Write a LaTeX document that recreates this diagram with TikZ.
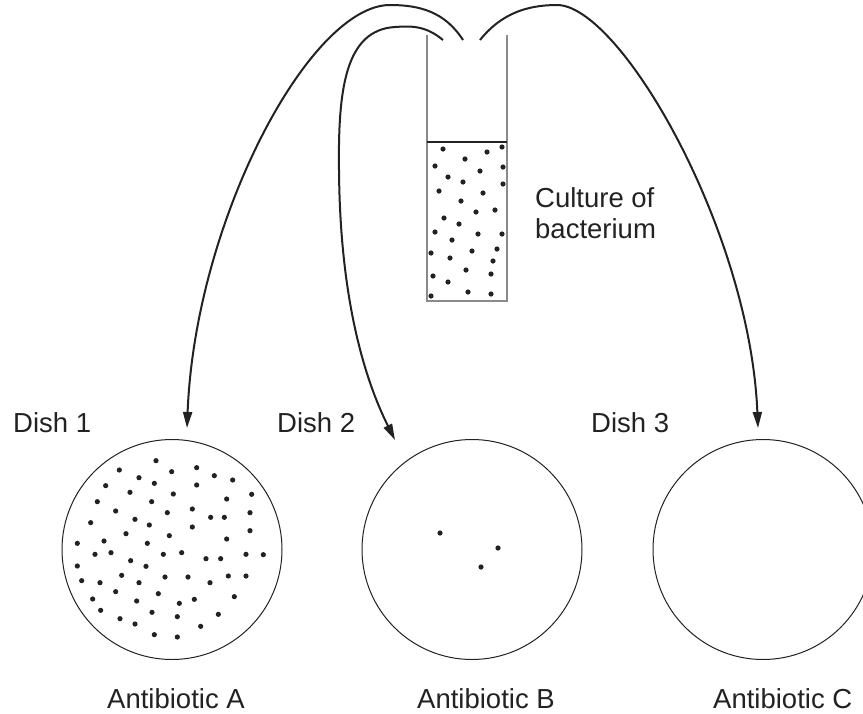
\documentclass[tikz,border=0pt]{standalone}
\usepackage{fontspec}
\setmainfont{Liberation Sans}
\usetikzlibrary{arrows.meta}
\definecolor{ink}{HTML}{222222}
\definecolor{tubegray}{HTML}{8A8A8A}
\begin{document}
\begin{tikzpicture}[x=1pt,y=-1pt,
  lbl/.style={inner sep=0pt,anchor=base west,text=ink,font=\fontsize{27.5}{31}\selectfont},
  dishc/.style={circle,draw=ink,line width=1pt,minimum size=220pt,inner sep=0pt},
  germ/.style={fill=ink},
  flow/.style={draw=ink,line width=2pt,-{Triangle[length=16pt,width=9pt]}}]
\useasboundingbox (0,0) rectangle (863,713);
\clip (0,0) rectangle (863,713);
\fill[white] (0,0) rectangle (863,713);
% test tube
\draw[tubegray,line width=1.4pt] (427,35) -- (427,301) -- (507,301) -- (507,35);
\draw[ink,line width=1.2pt] (427,142) -- (507,142);
\foreach \a/\b in {443/149,487/152,502/147,465/159,435/166,480/171,503/167,448/177,463/182,503/184,
  439/191,483/193,461/201,476/212,495/210,444/218,459/224,435/232,478/234,502/234,452/240,472/251,
  497/249,431/253,450/258,493/261,466/270,491/274,433/276,448/282,468/292,491/294,431/296}
  \fill[germ] (\a,\b) circle[radius=2.6pt];
\node[lbl,align=left] (culture) at (535,238) {Culture of\\bacterium};
% dishes
\node[dishc] (dish1) at (172,549.5) {};
\node[dishc] (dish2) at (472,549.5) {};
\node[dishc] (dish3) at (763,549.5) {};
\foreach \a/\b in {348/92,238/120,395/125,470/113,297/143,523/137,578/150,197/167,343/160,470/165,
  270/187,400/192,635/193,172/215,335/215,560/207,227/243,382/248,457/237,512/262,553/262,630/248,
  152/278,285/268,328/285,457/291,258/311,388/317,560/327,630/302,112/340,192/333,322/340,165/373,
  213/368,370/373,425/368,498/386,542/386,618/373,670/374,112/408,272/392,318/409,245/436,375/441,
  444/441,565/438,618/438,125/452,180/458,297/458,510/458,227/485,355/491,158/507,290/513,418/520,
  463/508,583/500,182/541,336/547,412/560,535/553,240/566,285/582,482/589,343/614,412/621}
  \fill[germ] ({40+\a/3},{430+\b/3}) circle[radius=2.6pt];
\foreach \a/\b in {440/533,498/548,481/567}
  \fill[germ] (\a,\b) circle[radius=2.6pt];
% labels
\node[lbl] (d1) at (13,432) {Dish 1};
\node[lbl] (d2) at (277,432) {Dish 2};
\node[lbl] (d3) at (591,432) {Dish 3};
\node[lbl] (abA) at (107,708) {Antibiotic A};
\node[lbl] (abB) at (417,708) {Antibiotic B};
\node[lbl] (abC) at (713,708) {Antibiotic C};
% arrows
\coordinate (s1) at (463,40);
\coordinate (s2) at (443,40);
\coordinate (s3) at (480,40);
\coordinate (e1) at (187,428);
\coordinate (e2) at (395,440);
\coordinate (e3) at (758,428);
\draw[flow] (s1) .. controls (445,12) and (420,5) .. (390,5)
  .. controls (310,5) and (195,220) .. (e1);
\draw[flow] (s2) .. controls (425,25) and (410,26) .. (395,27)
  .. controls (345,30) and (338,90) .. (339,170)
  .. controls (340,300) and (365,380) .. (e2);
\draw[flow] (s3) .. controls (500,15) and (525,5) .. (557,5)
  .. controls (620,5) and (750,230) .. (e3);
\end{tikzpicture}
\end{document}
